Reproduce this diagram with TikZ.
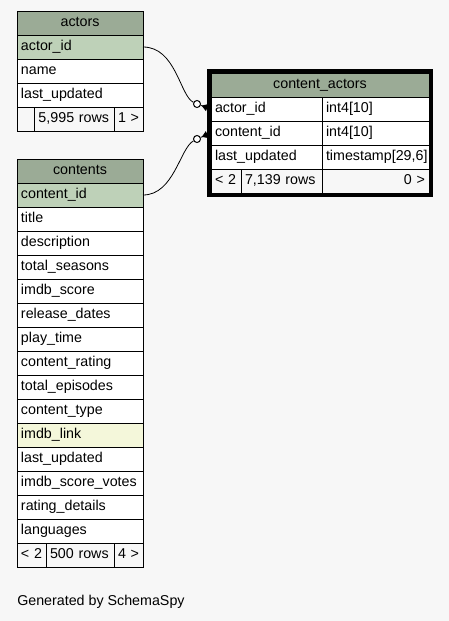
\documentclass[tikz,border=0pt]{standalone}
\usepackage{fontspec}
\setmainfont{Liberation Sans}
\usetikzlibrary{arrows.meta}
\definecolor{bgpage}{HTML}{F7F7F7}
\definecolor{headcol}{HTML}{9BAB96}
\definecolor{keycol}{HTML}{BED1B8}
\definecolor{idxcol}{HTML}{F4F7DA}
\tikzset{
  cell/.style={draw, line width=0.75pt, anchor=north west, outer sep=0pt,
    minimum height=18pt, inner xsep=3pt, inner ysep=0pt,
    text height=7.6pt, text depth=2.4pt, text width=#1, align=left,
    font=\fontsize{10.7}{12}\selectfont},
  fld/.style={cell=88.5pt, fill=white},
  keyfld/.style={cell=88.5pt, fill=keycol},
  hdr/.style={cell=#1, fill=headcol, align=center},
  foot/.style={cell=#1, fill=bgpage},
  ring/.style={circle, draw, fill=white, line width=0.75pt, minimum size=5.25pt, inner sep=0pt},
  fk/.style={line width=0.6pt},
}
\begin{document}
\begin{tikzpicture}[x=0.75pt,y=-0.75pt]
    \fill[bgpage](0,0)rectangle(449,621);
    % actors
    \node[hdr=88.5pt] (actors-head) at (17,11) {actors};
    \node[keyfld] (actors-actor_id) at (actors-head.south west) {actor\_id};
    \node[fld] (actors-name) at (actors-actor_id.south west) {name};
    \node[fld] (actors-last_updated) at (actors-name.south west) {last\_updated};
    \node[foot=7.125pt] (actors-foot1) at (actors-last_updated.south west) {};
    \node[foot=53.625pt] (actors-foot2) at (actors-foot1.north east) {5,995~rows};
    \node[foot=15.75pt] (actors-foot3) at (actors-foot2.north east) {1~>};
    % contents
    \node[hdr=88.5pt] (contents-head) at (17,159) {contents};
    \node[keyfld] (contents-0) at (contents-head.south west) {content\_id};
    \foreach \fname/\fcol [count=\i, remember=\i as \j (initially 0)] in
      {title/white, description/white, total\_seasons/white, imdb\_score/white,
       release\_dates/white, play\_time/white, content\_rating/white,
       total\_episodes/white, content\_type/white, imdb\_link/idxcol,
       last\_updated/white, imdb\_score\_votes/white, rating\_details/white,
       languages/white}
      \node[fld, fill=\fcol] (contents-\i) at (contents-\j.south west) {\fname};
    \node[foot=15.75pt] (contents-foot1) at (contents-14.south west) {<~2};
    \node[foot=45pt] (contents-foot2) at (contents-foot1.north east) {500~rows};
    \node[foot=15.75pt] (contents-foot3) at (contents-foot2.north east) {4~>};
    % content_actors
    \node[hdr=157.5pt] (ca-head) at (211,73) {content\_actors};
    \node[cell=77.25pt, fill=white] (ca-actor_id) at (ca-head.south west) {actor\_id};
    \node[cell=74.25pt, fill=white] (ca-actor_id-t) at (ca-actor_id.north east) {int4[10]};
    \node[cell=77.25pt, fill=white] (ca-content_id) at (ca-actor_id.south west) {content\_id};
    \node[cell=74.25pt, fill=white] (ca-content_id-t) at (ca-content_id.north east) {int4[10]};
    \node[cell=77.25pt, fill=white] (ca-last_updated) at (ca-content_id.south west) {last\_updated};
    \node[cell=74.25pt, fill=white] (ca-last_updated-t) at (ca-last_updated.north east) {timestamp[29,6]};
    \node[foot=16.5pt] (ca-foot1) at (ca-last_updated.south west) {<~2};
    \node[foot=54.75pt] (ca-foot2) at (ca-foot1.north east) {7,139~rows};
    \node[foot=74.25pt, align=right] (ca-foot3) at (ca-foot2.north east) {0~>};
    \draw[line width=3pt]([shift={(-1.5pt,1.5pt)}]ca-head.north west)rectangle([shift={(1.5pt,-1.5pt)}]ca-foot3.south east);
    % foreign keys
    \node[ring] (ring-actor) at (197,104) {};
    \node[ring] (ring-content) at (197,139) {};
    \draw[fk](actors-actor_id.east)..controls(176,47)and(180,96)..(ring-actor);
    \draw[fk](contents-0.east)..controls(174,195)and(180,148)..(ring-content);
    \draw[fk,-{Triangle[reversed,length=4.5pt,width=5.5pt]},shorten >=3pt](ring-actor)--(ca-actor_id.west);
    \draw[fk,-{Triangle[reversed,length=4.5pt,width=5.5pt]},shorten >=3pt](ring-content)--(ca-content_id.west);
    \node[anchor=base west, inner sep=0pt, font=\fontsize{10.7}{12}\selectfont] (credit) at (17,605) {Generated by SchemaSpy};
\end{tikzpicture}
\end{document}
